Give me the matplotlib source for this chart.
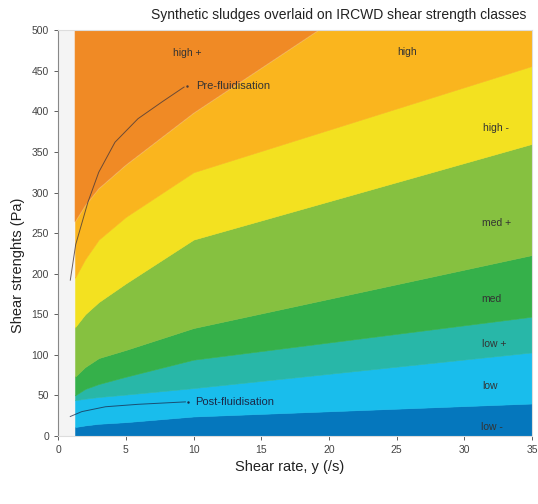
import matplotlib.pyplot as plt

plt.rcParams["font.family"] = ["Liberation Sans", "DejaVu Sans"]

# Shear rate sample points (/s) where the class boundaries were read
gamma = [1.25, 2, 3, 5, 10, 35]

# Upper edge of each shear strength class (Pa)
b_low_minus = [11, 13, 15, 17, 24, 40]
b_low = [44, 46, 48, 51, 59, 103]
b_low_plus = [50, 58, 64, 73, 94, 147]
b_med = [73, 85, 96, 106, 133, 223]
b_med_plus = [134, 150, 165, 188, 242, 360]
b_high_minus = [195, 218, 242, 270, 325, 456]
b_high = [264, 284, 305, 334, 398, 675]

classes = ["low -", "low", "low +", "med", "med +", "high -", "high", "high +"]
class_colors = ["#0577bd", "#19bdec", "#28b7a8", "#35b04a",
                "#86c140", "#f3e120", "#fab51e", "#f08a25"]
label_x = [32.0, 31.9, 32.2, 32.0, 32.4, 32.3, 25.8, 9.5]
label_y = [11, 62, 113, 169, 262, 379, 473, 472]

# Synthetic sludge flow curves
pre_rate = [0.9, 1.3, 2.2, 3.0, 4.2, 5.9, 7.7, 9.3]
pre_stress = [192, 236, 288, 325, 362, 391, 412, 430]
post_rate = [0.9, 1.75, 3.5, 5.9, 9.4]
post_stress = [24, 30, 36, 39, 42]


def main():
    fig = plt.figure(figsize=(5.38, 5.04), dpi=100)
    ax = fig.add_axes([0.108, 0.135, 0.881, 0.805])
    ax.set_facecolor("#f4f4f4")

    # bands are stacked between consecutive edges; the axes clip at 500 Pa
    edges = [[0] * len(gamma), b_low_minus, b_low, b_low_plus, b_med,
             b_med_plus, b_high_minus, b_high, [1000] * len(gamma)]
    for i, col in enumerate(class_colors):
        ax.fill_between(gamma, edges[i], edges[i + 1], facecolor=col,
                        edgecolor=col, lw=0.4)

    for name, lx, ly in zip(classes, label_x, label_y):
        ax.text(lx, ly, name, fontsize=7.5, color="#333333",
                ha="center", va="center")

    ax.plot(pre_rate, pre_stress, color="#4a3a3a", lw=0.7, alpha=0.8)
    ax.plot(pre_rate[-1] + 0.2, pre_stress[-1] + 1, marker=".",
            ms=1.5, color="#4a3a3a")
    ax.text(10.2, pre_stress[-1] + 1, "Pre-fluidisation", fontsize=8,
            color="#333333", va="center")

    ax.plot(post_rate, post_stress, color="#1a2a4a", lw=0.7, alpha=0.75)
    ax.plot(post_rate[-1] + 0.2, post_stress[-1], marker=".",
            ms=1.5, color="#1a2a4a")
    ax.text(10.1, post_stress[-1], "Post-fluidisation", fontsize=8,
            color="#1a2a4a", va="center")

    ax.set_xlim(0, 35)
    ax.set_ylim(0, 500)
    ax.set_xticks(range(0, 36, 5))
    ax.set_yticks(range(0, 501, 50))
    ax.tick_params(labelsize=7.5, colors="#444444", length=3, width=0.6)
    for side in ["top", "right", "bottom"]:
        ax.spines[side].set_color("#dddddd")
    ax.spines["left"].set_color("#888888")

    fig.text(339 / 538, 1 - 15 / 504, "Synthetic sludges overlaid on IRCWD shear strength classes",
             fontsize=10, ha="center", va="center", color="#222222")
    fig.text(18 / 538, 1 - 265 / 504, "Shear strenghts (Pa)", fontsize=10.5,
             rotation=90, ha="center", va="center", color="#222222")
    fig.text(290 / 538, 1 - 467 / 504, "Shear rate, y (/s)", fontsize=10.5,
             ha="center", va="center", color="#222222")

    fig.savefig("out.png", dpi=100)
    plt.close(fig)


if __name__ == "__main__":
    main()
